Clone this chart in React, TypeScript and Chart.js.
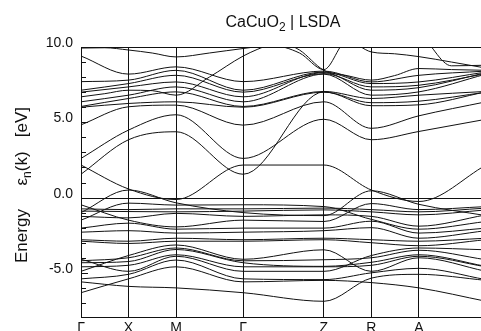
import React, { useEffect, useRef } from "react";
import { Chart, registerables } from "chart.js";

Chart.register(...registerables);

// Path through the Brillouin zone: Γ-X-M-Γ-Z-R-A-Z (k in units of Γ-X length)
const kHigh = [0, 1, 2, 3.414, 5.113, 6.113, 7.113, 8.527];
const kFine = [0, 0.5, 1, 1.5, 2, 2.7, 3.414, 4.0, 4.6, 5.113, 5.6, 6.113, 6.6, 7.113, 7.8, 8.527];
const symLabels = ["Γ", "X", "M", "Γ", "Z", "R", "A"];
const symPos = [0, 1, 2, 3.414, 5.113, 6.113, 7.113];
const energyTicks = [10, 5, 0, -5];
const kMax = 8.42;
const eMin = -8;
const eMax = 10;

// Conduction bands (eV); 16 values -> kFine, 8 values -> kHigh
const bandU0 = [11, 11, 11, 11, 11, 11, 11, 10.6, 9.8, 8.45, 8.1, 7.8, 8.1, 8.57, 8.5, 8.45];
const bandU1 = [9.93, 9.95, 9.8, 9.6, 9.34, 9.6, 9.9, 10.1, 9.6, 8.5, 10.4, 9.67, 9.55, 9.36, 9.0, 8.6];
const bandU6 = [6.69, 6.9, 7.13, 7.1, 6.8, 8.0, 9.4, 10.2, 10.8, 11, 11, 11, 11, 10.8, 8.75, 8.79];
const bandU2 = [9.4, 8.2, 8.68, 7.7, 8.4, 7.68, 8.12, 8.4];
const bandU3 = [7.7, 7.8, 8.45, 7.13, 8.34, 7.57, 7.68, 8.34];
const bandU4 = [7.13, 7.57, 8.12, 7.0, 8.23, 7.35, 7.46, 8.23];
const bandU5 = [7.0, 7.35, 7.68, 6.69, 8.3, 7.13, 7.3, 8.3];
const bandU7 = [6.36, 6.8, 7.35, 6.36, 8.2, 6.8, 7.02, 8.2];
const bandU8 = [6.05, 6.58, 7.02, 6.05, 7.05, 6.58, 6.8, 7.05];
const bandU9 = [6.0, 6.25, 6.36, 6.0, 7.0, 6.3, 6.4, 7.0];
const bandQ = [4.83, 6.03, 6.14, 4.81, 6.36, 4.6, 5.43, 6.36];
const bandE = [1.55, 3.84, 4.37, 1.55, 7.02, 6.1, 6.16, 7.02];
const bandP = [2.6, 4.48, 5.5, 2.6, 5.2, 3.84, 4.39, 5.2];

// Bands around the Fermi level
const bandD = [2.16, 0.57, -0.13, 2.16, 2.16, 0.5, -0.26, 2.16];
const bandF = [-1.0, 0.5, -0.35, -1.0, -1.2, 0.45, -0.45, -1.2];

// Valence manifold
const bandV1 = [-0.48, -1.5, -1.95, -1.5, -1.59, -0.4, -0.8, -0.6];
const bandV2 = [-0.75, -0.8, -0.75, -0.75, -0.7, -0.8, -0.95, -0.7];
const bandV3 = [-0.9, -0.93, -0.95, -0.9, -0.82, -0.95, -1.15, -0.82];
const bandV4 = [-1.25, -1.35, -1.05, -1.25, -1.15, -1.25, -1.9, -1.15];
const bandV5 = [-1.5, -0.37, -0.5, -0.48, -0.6, -1.45, -2.1, -1.59];
const bandV6 = [-2.03, -1.7, -2.1, -2.03, -2.03, -1.57, -2.36, -2.03];
const bandV7 = [-2.3, -2.2, -2.36, -2.3, -2.2, -2.0, -2.7, -2.2];
const bandV8 = [-2.8, -2.9, -2.7, -2.8, -2.7, -2.8, -2.9, -2.7];
const bandV9 = [-2.9, -3.05, -2.9, -2.9, -2.8, -3.0, -3.2, -2.8];
const bandV10 = [-4.1, -4.9, -3.9, -4.9, -4.9, -3.85, -3.35, -3.47];
const bandV11 = [-4.2, -4.0, -3.35, -4.2, -4.13, -4.0, -3.5, -4.13];
const bandV12 = [-4.33, -4.25, -3.45, -4.33, -4.57, -4.3, -3.8, -4.57];
const bandV13 = [-4.6, -4.5, -3.8, -4.6, -4.6, -4.5, -3.9, -4.6];
const bandV14 = [-4.9, -3.85, -3.15, -4.1, -3.47, -4.9, -4.0, -4.9];
const bandV15 = [-5.4, -5.1, -4.15, -5.4, -5.45, -5.0, -4.7, -5.45];
const bandV16 = [-5.6, -5.9, -6.0, -6.32, -6.89, -5.35, -5.1, -5.5];
const bandV17 = [-6.32, -5.4, -4.6, -5.6, -5.5, -5.65, -6.0, -6.89];

const bands = [
  bandU0, bandU1, bandU6, bandU2, bandU3, bandU4, bandU5, bandU7, bandU8, bandU9,
  bandQ, bandE, bandP, bandD, bandF,
  bandV1, bandV2, bandV3, bandV4, bandV5, bandV6, bandV7, bandV8, bandV9,
  bandV10, bandV11, bandV12, bandV13, bandV14, bandV15, bandV16, bandV17,
];

const INK = "#111";
const FONT = '"Liberation Sans", Arial, Helvetica, sans-serif';

type Part = { t: string; sub?: boolean };

function drawParts(ctx: CanvasRenderingContext2D, parts: Part[], cx: number, cy: number, size: number, subSize: number, subDrop: number) {
  const widths = parts.map((p) => {
    ctx.font = `${p.sub ? subSize : size}px ${FONT}`;
    return ctx.measureText(p.t).width;
  });
  const total = widths.reduce((a, b) => a + b, 0);
  let x = cx - total / 2;
  ctx.textAlign = "left";
  ctx.textBaseline = "alphabetic";
  parts.forEach((p, i) => {
    ctx.font = `${p.sub ? subSize : size}px ${FONT}`;
    ctx.fillText(p.t, x, p.sub ? cy + subDrop : cy);
    x += widths[i];
  });
}

const decorations = {
  id: "bandDecorations",
  beforeDatasetsDraw(chart: any) {
    const { ctx, chartArea: a, scales } = chart;
    const x = scales.x;
    const y = scales.y;
    ctx.save();
    ctx.strokeStyle = INK;
    ctx.lineWidth = 1;
    const seg = (x1: number, y1: number, x2: number, y2: number) => {
      ctx.beginPath();
      ctx.moveTo(x1, y1);
      ctx.lineTo(x2, y2);
      ctx.stroke();
    };
    // frame
    seg(a.left + 0.5, a.top, a.left + 0.5, a.bottom);
    seg(a.left, a.top + 0.5, a.right, a.top + 0.5);
    seg(a.left, a.bottom - 0.5, a.right, a.bottom - 0.5);
    // high-symmetry verticals
    symPos.slice(1).forEach((k) => {
      const px = Math.floor(x.getPixelForValue(k)) + 0.5;
      seg(px, a.top, px, a.bottom);
    });
    // Fermi level
    const p0 = Math.round(y.getPixelForValue(0)) + 0.5;
    seg(a.left, p0, a.right, p0);
    // 1 eV tick marks on the energy axis
    for (let e = eMin + 1; e < eMax; e++) {
      const py = Math.round(y.getPixelForValue(e)) + 0.5;
      seg(a.left, py, a.left + (e % 5 === 0 ? 7 : 5), py);
    }
    ctx.restore();
  },
  afterDraw(chart: any) {
    const { ctx, chartArea: a, scales } = chart;
    const x = scales.x;
    const y = scales.y;
    ctx.save();
    ctx.fillStyle = INK;

    // energy tick labels
    ctx.font = `14px ${FONT}`;
    ctx.textAlign = "right";
    ctx.textBaseline = "alphabetic";
    energyTicks.forEach((v) => {
      const py = y.getPixelForValue(v);
      ctx.fillText(v.toFixed(1), a.left - 8, py);
    });

    // k-point labels
    ctx.font = `14px ${FONT}`;
    ctx.textAlign = "center";
    symLabels.forEach((s, i) => {
      ctx.fillText(s, x.getPixelForValue(symPos[i]), a.bottom + 14);
    });

    // title
    drawParts(ctx, [{ t: "CaCuO" }, { t: "2", sub: true }, { t: " | LSDA" }], (a.left + a.right) / 2 + 2, 27, 16, 12, 4);

    // energy axis title
    ctx.translate(27, 185);
    ctx.rotate(-Math.PI / 2);
    drawParts(
      ctx,
      [{ t: "Energy     ε" }, { t: "n", sub: true }, { t: "(k)   [eV]" }],
      0,
      0,
      17,
      12,
      4
    );
    ctx.restore();
  },
};

export default function App() {
  const canvasRef = useRef<HTMLCanvasElement | null>(null);

  useEffect(() => {
    document.body.style.margin = "0";
    const canvas = canvasRef.current;
    if (!canvas) return;
    const datasets = bands.map((vals) => {
      const ks = vals.length === kFine.length ? kFine : kHigh;
      return {
        data: vals.map((v, i) => ({ x: ks[i], y: v })),
        borderColor: INK,
        borderWidth: 1,
        pointRadius: 0,
        cubicInterpolationMode: "monotone" as const,
        fill: false,
      };
    });
    const chart = new Chart(canvas, {
      type: "line",
      data: { datasets },
      options: {
        responsive: false,
        animation: false,
        devicePixelRatio: 1,
        events: [],
        layout: { padding: { left: 81, right: 0, top: 47, bottom: 13 } },
        scales: {
          x: { type: "linear", min: 0, max: kMax, display: false },
          y: { type: "linear", min: eMin, max: eMax, display: false },
        },
        plugins: { legend: { display: false }, tooltip: { enabled: false } },
      },
      plugins: [decorations],
    });
    return () => chart.destroy();
  }, []);

  return (
    <div style={{ width: 481, height: 331, background: "#fff" }}>
      <canvas ref={canvasRef} width={481} height={331} style={{ display: "block" }} />
    </div>
  );
}
